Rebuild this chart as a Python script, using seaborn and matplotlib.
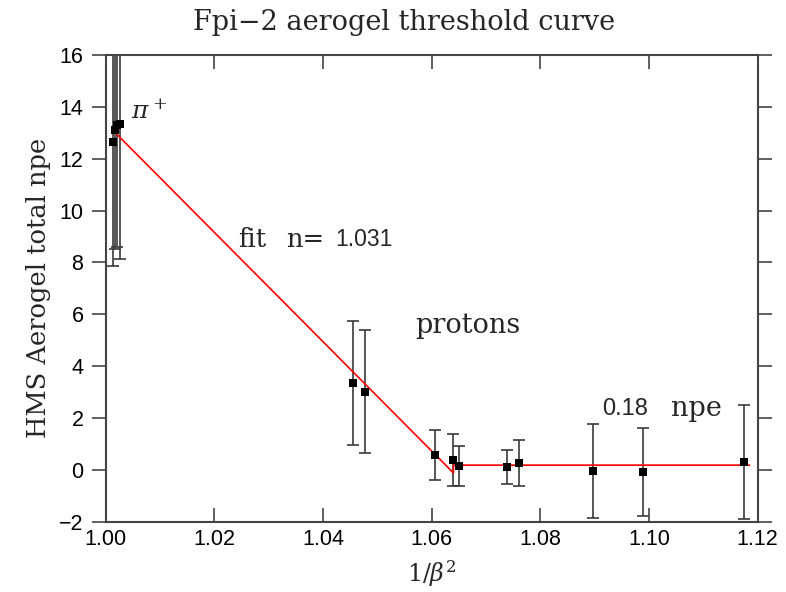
import numpy as np
import pandas as pd
import matplotlib
matplotlib.use("Agg")
import matplotlib.pyplot as plt
import seaborn as sns

# ---- data ----
pion_x = [1.0013, 1.0017, 1.0021, 1.0027]
pion_y = [12.65, 13.10, 13.30, 13.35]
pion_err = [4.80, 4.60, 4.70, 5.20]

data_x = [1.0456, 1.0477, 1.0606, 1.0639, 1.0651, 1.0739, 1.0761, 1.0896, 1.0988, 1.1175]
data_y = [3.35, 3.02, 0.57, 0.37, 0.15, 0.12, 0.26, -0.05, -0.09, 0.31]
data_err = [2.40, 2.38, 0.98, 1.00, 0.76, 0.65, 0.89, 1.80, 1.69, 2.20]

fit_x = [1.0013, 1.0640, 1.0640, 1.1185]
fit_y = [13.10, -0.12, 0.18, 0.18]

x_ticks = [1.00, 1.02, 1.04, 1.06, 1.08, 1.10, 1.12]
x_ticklabels = ["1.00", "1.02", "1.04", "1.06", "1.08", "1.10", "1.12"]
y_ticks = [-2, 0, 2, 4, 6, 8, 10, 12, 14, 16]

sns.set_theme(style="ticks")
plt.rcParams["font.family"] = ["Liberation Sans", "DejaVu Sans"]
plt.rcParams["mathtext.fontset"] = "dejavuserif"

fig = plt.figure(figsize=(7.86, 5.92), dpi=100)
ax = fig.add_axes([0.1345, 0.1188, 0.8295, 0.7883])

all_x = pion_x + data_x
all_y = pion_y + data_y
all_err = pion_err + data_err
df = pd.DataFrame({"x": all_x, "y": all_y, "err": all_err})

ax.errorbar(df["x"], df["y"], yerr=df["err"], fmt="none", ecolor="#3a3a3a",
            elinewidth=1.2, capsize=4, capthick=1.2, zorder=2)

fit_df = pd.DataFrame({"x": fit_x, "y": fit_y})
sns.lineplot(data=fit_df, x="x", y="y", sort=False, estimator=None,
             color="#ff0000", linewidth=1.2, ax=ax, zorder=3)

sns.scatterplot(data=df, x="x", y="y", marker="s", s=40, color="black",
                edgecolor="black", linewidth=0, ax=ax, zorder=4)

ax.set_xlim(1.00, 1.12)
ax.set_ylim(-2, 16)
ax.set_xticks(x_ticks)
ax.set_xticklabels(x_ticklabels)
ax.set_yticks(y_ticks)
ax.tick_params(axis="x", direction="in", top=True, bottom=True, length=10,
               width=1.2, color="#444444", labelsize=15.5, pad=5, labelcolor="black")
ax.tick_params(axis="y", direction="out", left=True, right=True, length=10,
               width=1.2, color="#444444", labelsize=15.5, pad=6, labelcolor="black")
for s in ax.spines.values():
    s.set_visible(True)
    s.set_color("#444444")
    s.set_linewidth(1.5)

serif = ["DejaVu Serif"]
ax.set_xlabel(r"$1/\beta^2$", fontsize=17, labelpad=6)
ax.set_ylabel("HMS Aerogel total npe", fontsize=18.5, family=serif, labelpad=6)
fig.text(0.514, 0.962, "Fpi\u22122 aerogel threshold curve", ha="center", va="center",
         fontsize=19.5, family=serif)

ax.text(1.0047, 13.8, r"$\pi^+$", fontsize=18, ha="left", va="center")
ax.text(1.0243, 8.9, "fit", fontsize=18.5, family=serif, ha="left", va="center")
ax.text(1.0332, 8.9, "n=", fontsize=18.5, family=serif, ha="left", va="center")
ax.text(1.0422, 8.9, "1.031", fontsize=16.5, ha="left", va="center")
ax.text(1.0569, 5.55, "protons", fontsize=19.5, family=serif, ha="left", va="center")
ax.text(1.0913, 2.35, "0.18", fontsize=17, ha="left", va="center")
ax.text(1.1040, 2.35, "npe", fontsize=19.5, family=serif, ha="left", va="center")

fig.savefig("out.png", dpi=100)
